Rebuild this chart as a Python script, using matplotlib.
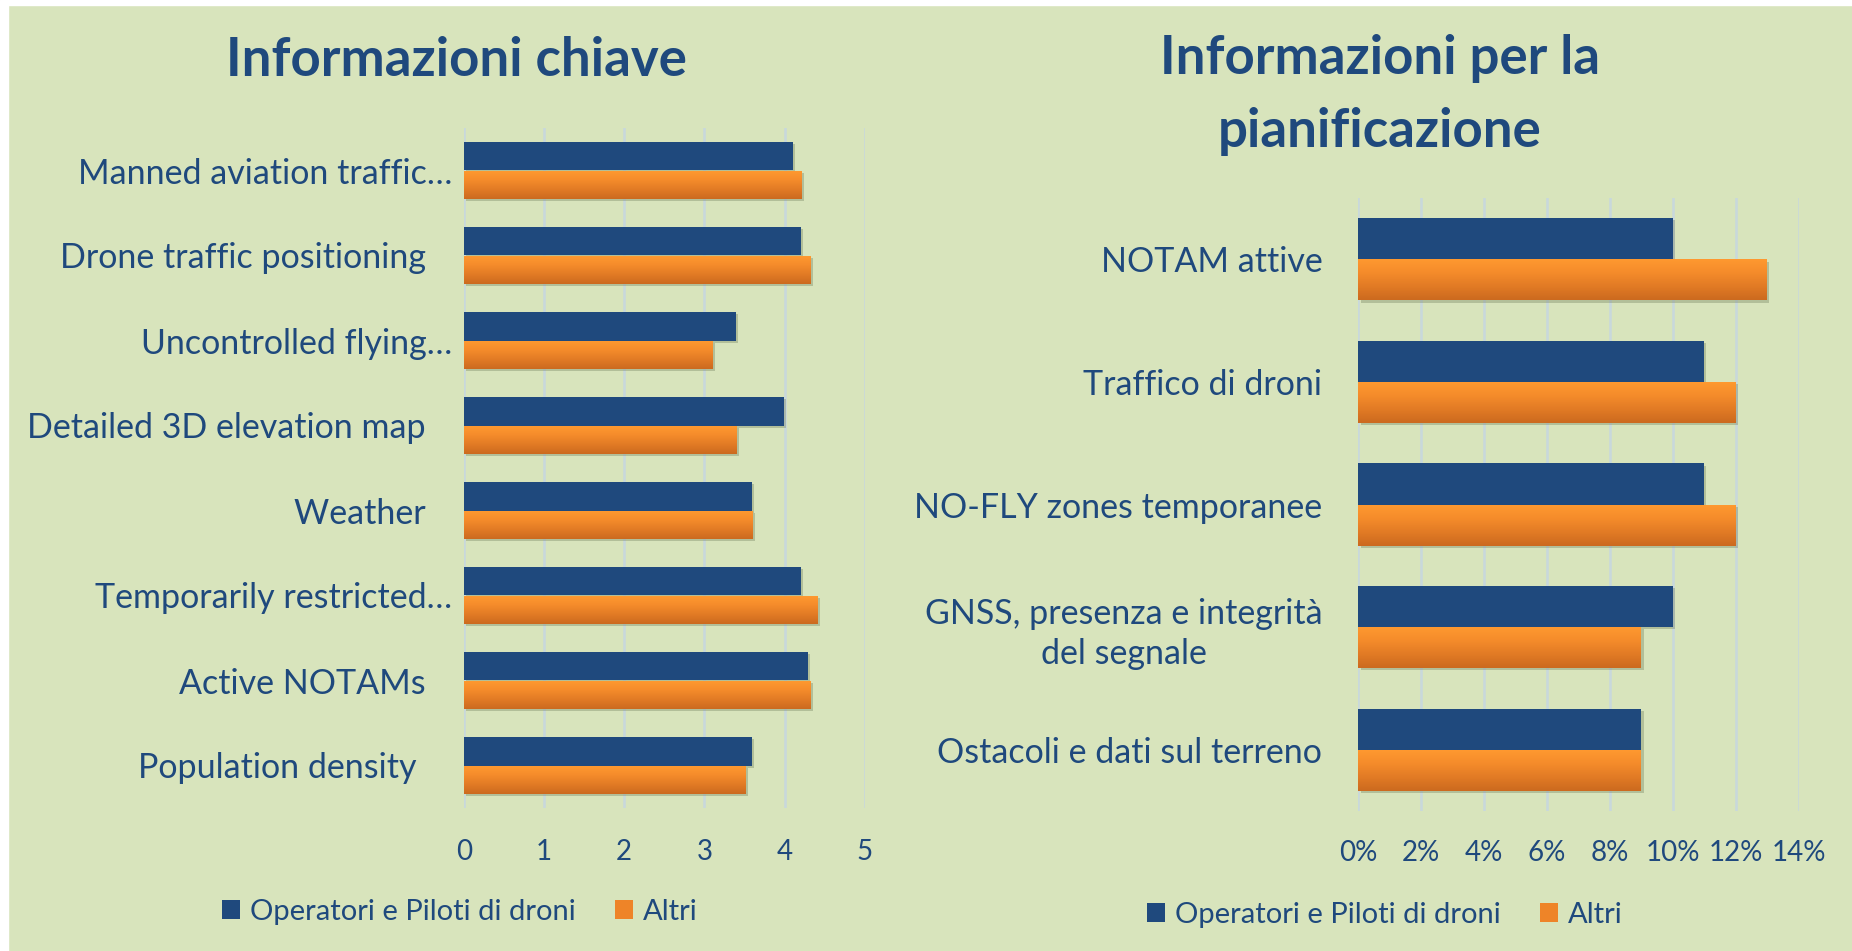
import matplotlib
matplotlib.use("Agg")
import matplotlib.pyplot as plt
import numpy as np
from matplotlib.patches import Patch, Rectangle
from matplotlib import patheffects as pe
from matplotlib.ticker import FuncFormatter
from matplotlib.colors import LinearSegmentedColormap

# ---------------- data ----------------
series_names = ["Operatori e Piloti di droni", "Altri"]

key_title = "Informazioni chiave"
key_labels = ["Manned aviation traffic…", "Drone traffic positioning   ",
              "Uncontrolled flying…", "Detailed 3D elevation map   ",
              "Weather   ", "Temporarily restricted…", "Active NOTAMs   ",
              "Population density    "]
key_operatori = [4.10, 4.20, 3.39, 3.99, 3.59, 4.20, 4.29, 3.59]
key_altri = [4.21, 4.32, 3.10, 3.40, 3.60, 4.41, 4.32, 3.51]
key_ticks = [0, 1, 2, 3, 4, 5]

plan_title = "Informazioni per la\npianificazione"
plan_labels = ["NOTAM attive", "Traffico di droni", "NO-FLY zones temporanee",
               "GNSS, presenza e integrità\ndel segnale",
               "Ostacoli e dati sul terreno"]
plan_operatori = [0.10, 0.11, 0.11, 0.10, 0.09]
plan_altri = [0.13, 0.12, 0.12, 0.09, 0.09]
plan_ticks = [0.0, 0.02, 0.04, 0.06, 0.08, 0.10, 0.12, 0.14]

# ---------------- style ----------------
W, H = 1852, 951
BG = "#D8E4BC"
BLUE = "#1F497D"
ORANGE = "#F4892A"
TEXT = "#1F497D"
GRID = "#C8D8DC"
FONT = ["Lato", "DejaVu Sans"]
plt.rcParams["font.family"] = FONT

fig = plt.figure(figsize=(W / 100, H / 100), dpi=100, facecolor=BG)

# white borders of the original screenshot
fig.patches.append(Rectangle((0, 1 - 5 / H), 1, 5 / H, transform=fig.transFigure,
                             color="white", zorder=0))
fig.patches.append(Rectangle((0, 0), 8 / W, 1, transform=fig.transFigure,
                             color="white", zorder=0))

grad_cmap = LinearSegmentedColormap.from_list(
    "og", ["#FF9A30", "#F58C2B", "#E27B25", "#CC6A1F"])
grad = np.linspace(0, 1, 64)[:, None]


def px_axes(x0, x1, y0, y1):
    return fig.add_axes([x0 / W, 1 - y1 / H, (x1 - x0) / W, (y1 - y0) / H])


def draw(ax, labels, s1, s2, ticks, fmt, ypad, xpad, ysize, xsize):
    n = len(labels)
    y = np.arange(n)
    h = 0.335
    shadow = [pe.SimplePatchShadow(offset=(1.6, -1.6), shadow_rgbFace="#6d7a5a",
                                   alpha=0.35), pe.Normal()]
    b1 = ax.barh(y - h / 2, s1, height=h, color=BLUE, zorder=3)
    b2 = ax.barh(y + h / 2, s2, height=h, color=ORANGE, zorder=3)
    for b in list(b1) + list(b2):
        b.set_path_effects(shadow)
    for b in b2:
        x0, y0, w, hh = b.get_x(), b.get_y(), b.get_width(), b.get_height()
        im = ax.imshow(grad, extent=(x0, x0 + w, y0 + hh, y0), origin="upper",
                       aspect="auto", cmap=grad_cmap, zorder=4)
        im.set_clip_path(b)
    ax.set_xlim(ticks[0], ticks[-1])
    ax.set_ylim(n - 0.5, -0.5)
    ax.set_xticks(ticks)
    ax.xaxis.set_major_formatter(FuncFormatter(fmt))
    ax.set_yticks(y)
    ax.set_yticklabels(labels)
    ax.set_facecolor("none")
    for s in ax.spines.values():
        s.set_visible(False)
    ax.grid(axis="x", color=GRID, lw=1.8, zorder=0)
    ax.set_axisbelow(True)
    ax.tick_params(axis="y", length=0, pad=ypad, labelsize=ysize, labelcolor=TEXT)
    ax.tick_params(axis="x", length=0, pad=xpad, labelsize=xsize, labelcolor=TEXT)
    for t in ax.get_yticklabels():
        t.set_multialignment("center")
        t.set_linespacing(1.3)


ax1 = px_axes(463.7, 865, 128, 808)
draw(ax1, key_labels, key_operatori, key_altri, key_ticks,
     lambda v, _: f"{v:.0f}", 8.5, 22, 24.5, 20)

ax2 = px_axes(1358.4, 1798.6, 198, 811)
draw(ax2, plan_labels, plan_operatori, plan_altri, plan_ticks,
     lambda v, _: f"{v * 100:.0f}%", 26, 21, 24.5, 20)

fig.text(456 / W, 1 - 60 / H, key_title, ha="center", va="center",
         fontsize=38, fontweight="bold", color=TEXT)
fig.text(1380 / W, 1 - 95 / H, plan_title, ha="center", va="center",
         fontsize=38, fontweight="bold", color=TEXT, linespacing=1.6)

handles = [Patch(facecolor=BLUE, edgecolor="none"),
           Patch(facecolor="#EE8428", edgecolor="none")]
for cx, cy in [(460, 912), (1385, 915)]:
    fig.legend(handles, series_names, ncol=2, loc="center",
               bbox_to_anchor=(cx / W, 1 - cy / H), frameon=False,
               fontsize=21, labelcolor=TEXT, handlelength=0.62,
               handleheight=0.62, handletextpad=0.34, columnspacing=1.35)

fig.savefig("out.png", dpi=100, facecolor=BG)
